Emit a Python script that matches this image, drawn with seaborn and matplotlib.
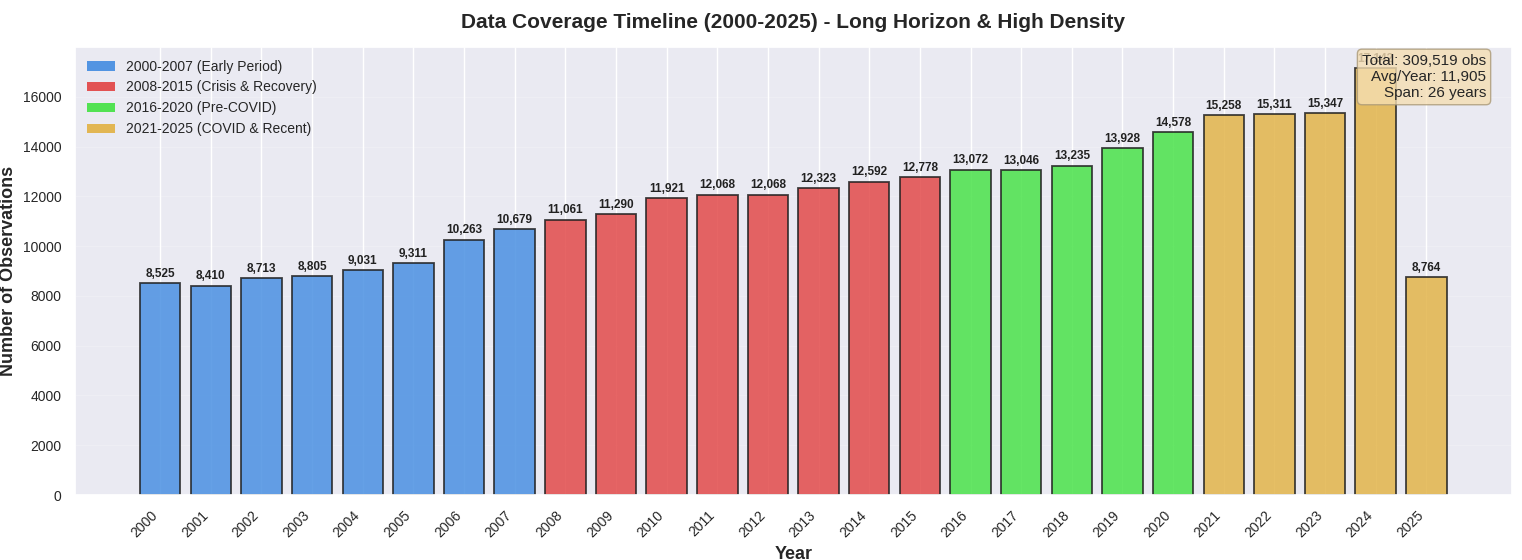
import pandas as pd
import matplotlib
matplotlib.use("Agg")
import matplotlib.pyplot as plt
import seaborn as sns

years = list(range(2000, 2026))
observations = [8525, 8410, 8713, 8805, 9031, 9311, 10263, 10679,
                11061, 11290, 11921, 12068, 12068, 12323, 12592, 12778,
                13072, 13046, 13235, 13928, 14578,
                15258, 15311, 15347, 17142, 8764]
period_names = ["2000-2007 (Early Period)", "2008-2015 (Crisis & Recovery)",
                "2016-2020 (Pre-COVID)", "2021-2025 (COVID & Recent)"]
period_sizes = [8, 8, 5, 5]
period_colors = ["#4A90E2", "#E24A4A", "#4AE24A", "#E2B44A"]

periods = [name for name, n in zip(period_names, period_sizes) for _ in range(n)]
df = pd.DataFrame({"Year": years, "Obs": observations, "Period": periods})

sns.set_theme(style="darkgrid")
plt.rcParams["font.family"] = ["Liberation Sans", "DejaVu Sans"]

fig, ax = plt.subplots(figsize=(15.22, 5.6), dpi=100)
fig.subplots_adjust(left=0.049, right=0.9934, top=0.916, bottom=0.116)

sns.barplot(data=df, x="Year", y="Obs", hue="Period", hue_order=period_names,
            palette=period_colors, saturation=1, native_scale=True, dodge=False,
            width=0.8, edgecolor="#222222", linewidth=1.3, alpha=0.85, ax=ax)

for yr, val in zip(years, observations):
    ax.text(yr, val + 130, f"{val:,}", ha="center", va="bottom",
            fontsize=8.5, fontweight="bold", color="#222222")

ax.set_xlim(years[0] - 1.69, years[-1] + 1.69)
ax.set_ylim(0, max(observations) * 1.05)
ax.set_xticks(years)
ax.set_xticklabels([str(y) for y in years], rotation=45, ha="right", fontsize=10)
ax.tick_params(axis="y", labelsize=10)
ax.grid(axis="y", alpha=0.2)

ax.set_xlabel("Year", fontsize=13, fontweight="bold")
ax.set_ylabel("Number of Observations", fontsize=13, fontweight="bold")
ax.set_title("Data Coverage Timeline (2000-2025) - Long Horizon & High Density",
             fontsize=15, fontweight="bold", pad=14)

leg = ax.legend(loc="upper left", fontsize=10, frameon=False)
for h in leg.legend_handles:
    h.set_edgecolor("none")
    h.set_alpha(0.95)

total = sum(observations)
summary = f"Total: {total:,} obs\nAvg/Year: {total / len(years):,.0f}\nSpan: {len(years)} years"
ax.text(0.982, 0.985, summary, transform=ax.transAxes, ha="right", va="top",
        fontsize=11, zorder=10,
        bbox=dict(boxstyle="round,pad=0.3", facecolor="wheat", alpha=0.8, edgecolor="#aa9977"))

plt.savefig("out.png", dpi=100)
plt.close()
